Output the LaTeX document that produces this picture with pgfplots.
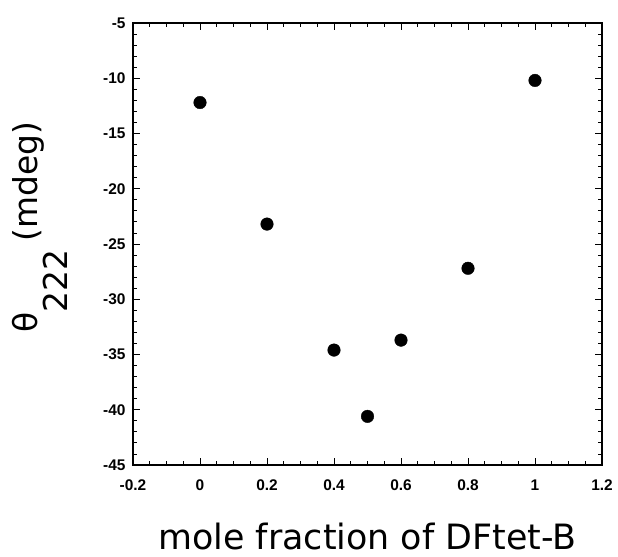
\documentclass[border=0pt]{standalone}
\usepackage{fontspec}
\setmainfont{DejaVu Sans}
\newfontfamily\tickfont{Liberation Sans}
\usepackage{pgfplots}
\pgfplotsset{compat=1.18}

\begin{document}
\begin{tikzpicture}
\begin{axis}[
  scale only axis,
  width=469bp, height=442bp,
  xmin=-0.2, xmax=1.2,
  ymin=-45, ymax=-5,
  xtick={-0.2,0,0.2,0.4,0.6,0.8,1,1.2},
  ytick={-45,-40,-35,-30,-25,-20,-15,-10,-5},
  minor x tick num=3,
  minor y tick num=4,
  xtick pos=both, ytick pos=both,
  xticklabel pos=lower, yticklabel pos=left,
  tick align=inside,
  major tick length=7bp,
  minor tick length=4bp,
  axis line style={line width=1.1pt},
  every tick/.style={black, line width=0.8pt},
  /pgf/number format/assume math mode=true,
  ticklabel style={font=\tickfont\bfseries\fontsize{15.5}{15.5}\selectfont},
  xticklabel style={yshift=-11bp},
  yticklabel style={xshift=-4bp},
  xlabel={mole fraction of DFtet-B},
  xlabel style={font=\fontsize{35}{35}\selectfont, at={(rel axis cs:0.5,-0.192)}, anchor=base},
  ylabel={θ\raisebox{-0.9em}{222}\hspace{0.25em}(mdeg)},
  ylabel style={font=\fontsize{33}{33}\selectfont, at={(rel axis cs:-0.198,0.538)}, anchor=center},
]
\addplot[only marks, mark=*, mark size=6.3bp, black] coordinates {
  (0,-12.2) (0.2,-23.2) (0.4,-34.6) (0.5,-40.6) (0.6,-33.7) (0.8,-27.2) (1,-10.2)
};
\coordinate (bl) at (rel axis cs:-0.2836,-0.2081);
\coordinate (tr) at (rel axis cs:1.0341,1.0520);
\end{axis}
\pgfresetboundingbox
\path[use as bounding box] (bl) rectangle (tr);
\end{tikzpicture}
\end{document}
